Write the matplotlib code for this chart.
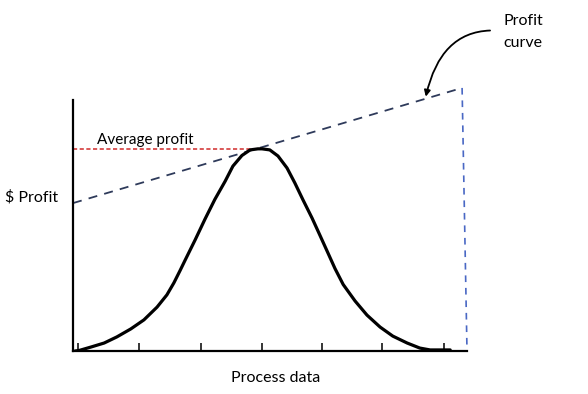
import matplotlib
matplotlib.use('Agg')
import matplotlib.pyplot as plt

plt.rcParams['font.family'] = ['Lato', 'DejaVu Sans']

# bell curve of the process data
bell_x = [0.5, 1.5, 4.4, 7.6, 10.7, 14.1, 17.3, 20.5, 22.9, 24.6, 26.1, 27.3,
          29.8, 32.2, 34.6, 37.1, 39.0, 41.2, 43.2, 45.1, 46.1, 48.0, 50.0,
          52.2, 54.1, 56.1, 58.3, 60.2, 62.2, 63.9, 65.9, 68.8, 71.7, 74.9,
          78.0, 81.5, 84.6, 87.1, 90.2, 92.0]
bell_y = [0.0, 0.2, 1.5, 3.0, 5.3, 8.3, 11.7, 16.5, 21.1, 25.6, 30.2, 34.0,
          41.8, 49.6, 57.0, 63.8, 69.5, 73.5, 75.6, 76.0, 76.0, 75.6, 73.3,
          68.8, 63.2, 56.8, 50.0, 43.6, 36.8, 31.0, 25.0, 18.8, 13.5, 9.0,
          5.6, 3.0, 1.1, 0.4, 0.4, 0.4]

# profit curve (sloped line, then drop to zero)
profit_x = [0.0, 94.9]
profit_y = [55.6, 98.9]
drop_x = [94.9, 96.1]
drop_y = [98.9, 0.0]

# average profit level
avg_x = [0.0, 45.1]
avg_y = [76.1, 76.1]

tick_pos = [1.2, 16.1, 31.2, 46.1, 60.7, 75.4, 90.5]

fig = plt.figure(figsize=(5.88, 3.94), dpi=100)
ax = fig.add_axes([73 / 588, 43 / 394, 410 / 588, 266 / 394])
ax.set_xlim(0, 100)
ax.set_ylim(0, 100)

ax.plot(avg_x, avg_y, color='#d43c3c', lw=1.2, dashes=(2.5, 1.5), zorder=2)
ax.plot(profit_x, profit_y, color='#2e3a5a', lw=1.3, dashes=(5, 4), zorder=2)
ax.plot(drop_x, drop_y, color='#4a68c4', lw=1.2, dashes=(4, 3.5), zorder=2)
ax.plot(bell_x, bell_y, color='black', lw=2.3, solid_capstyle='round',
        solid_joinstyle='round', zorder=3)

# axes: only left and bottom lines
for s in ['top', 'right']:
    ax.spines[s].set_visible(False)
ax.spines['left'].set_linewidth(1.6)
ax.spines['bottom'].set_linewidth(1.6)
ax.spines['left'].set_bounds(0, 94.4)
ax.spines['bottom'].set_bounds(0, 96.1)
ax.set_xticks(tick_pos)
ax.set_xticklabels([])
ax.set_yticks([])
ax.tick_params(axis='x', direction='in', length=6, width=1.1)

ax.text(5.9, 77.8, 'Average profit', fontsize=11, ha='left', va='baseline')
fig.text(5 / 588, 1 - 197 / 394, '$ Profit', fontsize=11.5, ha='left', va='center')
fig.text(276 / 588, 1 - 378 / 394, 'Process data', fontsize=11.5, ha='center', va='center')
ax.text(104.9, 120.0, 'Profit\ncurve', fontsize=11.5, ha='left', va='center',
        linespacing=1.7, clip_on=False)

ax.annotate('', xy=(85.9, 94.6), xytext=(102.4, 120.5),
            arrowprops=dict(arrowstyle='-|>', color='black', lw=1.3,
                            mutation_scale=9,
                            connectionstyle='angle3,angleA=0,angleB=78'),
            annotation_clip=False)

fig.savefig('out.png', dpi=100)
